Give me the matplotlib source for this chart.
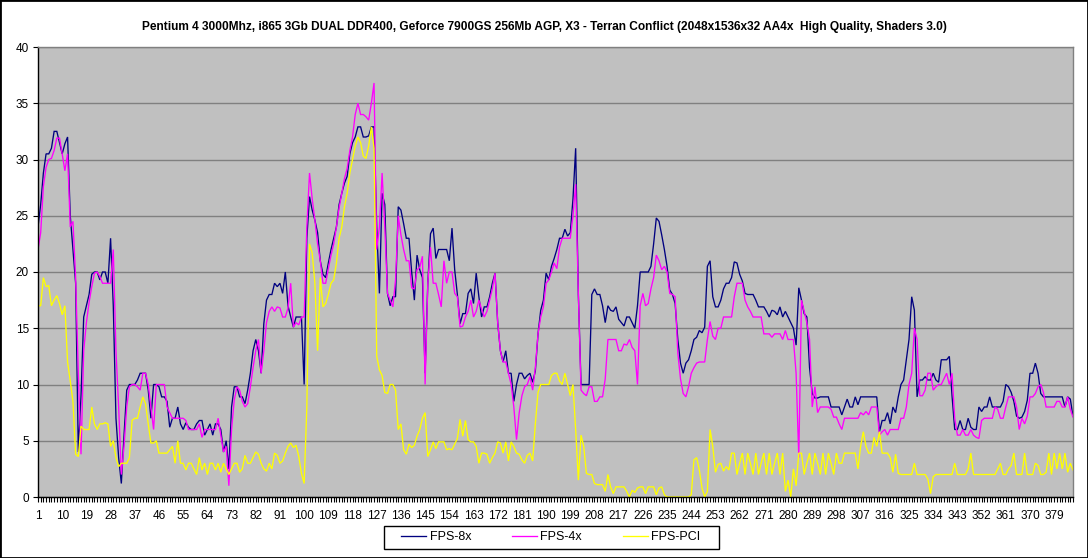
import matplotlib
matplotlib.use("Agg")
import matplotlib.pyplot as plt
from matplotlib.patches import Rectangle

plt.rcParams['font.family'] = ['Liberation Sans', 'DejaVu Sans']

title = ("Pentium 4 3000Mhz, i865 3Gb DUAL DDR400, Geforce 7900GS 256Mb AGP, "
         "X3 - Terran Conflict (2048x1536x32 AA4x  High Quality, Shaders 3.0)")
series_names = ["FPS-8x", "FPS-4x", "FPS-PCI"]

fps_8x = [
    24, 26, 28.8, 30.5, 30.5, 31, 32.5, 32.5, 31.5, 30.5, 31.4, 32, 25, 22, 19, 4, 9, 16, 17, 18,
    19.8, 20, 20, 19.3, 20, 20, 19, 23, 17, 7, 3.5, 1.2, 5.5, 9.5, 10, 10, 10, 10.4, 11, 11,
    11, 9.5, 7, 10,
    10, 9.8, 8.9, 8.9, 8.5, 6.2, 7, 7, 8, 6.5, 6, 6.6, 6.2, 6, 6, 6.5, 6.8, 6.8, 5.5, 6,
    6.5, 5.5, 6.5, 6.5, 6, 4, 5, 2.5, 8, 9.8, 9.8, 8.9, 8.9, 8.3, 9.5, 11, 13, 14, 13, 11,
    15.4, 17.5, 18,
    18, 19, 18.7, 19, 18.1, 20, 17, 16, 15.1, 16, 16, 16, 10, 23, 26.7, 25.5, 24.6, 23.5, 21, 19.8,
    19.5, 20.8, 22, 23, 24, 26, 27, 27.9, 28.5, 30.5, 31.5, 32, 32.9, 32.9, 32, 32, 32.1, 32.9, 32.9, 24,
    18.1, 27, 26,
    18.1, 17, 17.8, 17.8, 25.8, 25.5, 24.3, 23, 23, 20, 17.5, 21.5, 20.2, 19.5, 11, 19, 23.4, 23.9, 21.2, 22,
    22, 22, 22, 21, 23.9, 20.2, 18, 15.4, 16.3, 16.3, 18.1, 18.5, 17.2, 19.9, 17.8, 16, 16.9, 16.9, 17.8, 19,
    19.9, 15.5, 13,
    12, 13, 11, 11, 8.5, 10, 11, 11, 10.5, 10.8, 11, 10.2, 11.2, 14.5, 16.6, 17.5, 19.9, 19.3, 20.5, 21.2,
    22, 23, 23, 23.8, 23.2, 23.5, 26.5, 31, 18, 10, 10, 10, 10, 18, 18.5, 18, 18, 17, 15.5, 17,
    16.6, 16.5,
    16.9, 15.8, 15.5, 15.2, 16, 16, 15.5, 15, 17, 20, 20, 20, 20, 20.5, 22.5, 24.8, 24.5, 23.3, 22, 20.5,
    18.4, 18, 17.2, 14, 11.9, 11, 11.9, 12.2, 13, 14, 14.2, 14.8, 14.6, 15.1, 20.5, 21, 17.8, 16.9, 16.9, 17.5,
    18.5, 19, 19,
    19.5, 20.9, 20.8, 19.8, 19.2, 18.1, 18, 18, 18, 17.5, 16.9, 16.9, 16.9, 16.5, 16, 16.6, 16.5, 16.2, 16.9, 16,
    16.5, 16, 15.5, 15, 13.5, 18.6, 17.5, 16.3, 16, 11.5, 9.2, 8.8, 8.8, 8.9, 8.9, 8.9, 8.9, 8, 8, 8,
    8, 7.3, 8,
    8.7, 8, 8, 8.9, 8.2, 8.9, 8.9, 8.9, 8.9, 8.9, 8.9, 8.9, 5.8, 6.8, 6.8, 7.5, 6.5, 8, 7.5, 8.9,
    10, 10.4, 12.2, 14, 17.8, 16.6, 8.9, 10.4, 10.4, 10.7, 10.4, 10.4, 11, 10.4, 10.2, 12.2, 12.2, 12.2, 12.5, 9,
    6, 6, 6.8,
    6, 6, 7, 6.2, 6, 6, 8, 7.6, 8, 8, 8.9, 8, 8, 8, 8, 8.5, 10, 9.8, 9.3, 8.5,
    7.2, 7, 7.1, 7.6, 8.6, 11, 11, 11.9, 11, 9.2, 8.9, 8.9, 8.9, 8.9, 8.9, 8.9, 8.9, 8.9, 8, 8.9,
    8.7, 7.2,
]

fps_4x = [
    22, 23.5, 27.6, 29.3, 30, 30.1, 30.8, 31.9, 31.9, 30.5, 29, 30.5, 24, 24.5, 19.5, 11, 3.8, 13, 15.5, 17.3,
    18.7, 19.9, 20, 19.6, 19, 19, 19, 19, 22, 13, 8, 2, 4.5, 8, 9.8, 10, 10, 9.8, 9.5, 11,
    11, 10, 8, 6,
    10, 10, 10, 10, 8, 7.5, 7, 7, 7, 7, 7, 6.8, 6, 6, 6, 6, 6.5, 5.3, 6, 6,
    6, 6, 6, 7, 5.5, 4, 4.5, 1, 6, 8.6, 9.8, 9.5, 8.5, 8, 8.3, 9.8, 11.5, 13, 14, 11,
    13, 15.5, 16.5,
    16.9, 16.5, 16.9, 16.8, 16, 16, 16.8, 19, 15.1, 15.5, 15.3, 16, 16, 24, 28.8, 26.5, 24.6, 22.5, 21, 19,
    19, 20.3, 21.5, 22.5, 24, 25.7, 27, 28.3, 29.2, 30.8, 32, 34, 35, 34, 34, 33.8, 33.5, 35, 36.8, 22,
    24, 28.8, 24,
    18.1, 17.5, 16.9, 19.3, 25, 23.3, 22, 21, 21, 18.6, 18.5, 20.2, 20.4, 21.4, 10, 19, 22.2, 19, 19, 18,
    16.9, 21, 19, 20, 20, 18.1, 17.8, 15.1, 15.2, 16, 16.5, 17.5, 16, 16.5, 17.5, 16.7, 16, 16.5, 17.5, 18.5,
    19.9, 15.5, 13,
    12, 12, 11, 10, 8, 5.1, 7.5, 9, 9.8, 10, 10.7, 9.5, 11.5, 14.5, 16, 16.9, 19, 19.3, 20, 20.8,
    20.3, 22.2, 23, 23, 23, 23, 25, 27.8, 18.1, 9.5, 9.2, 9, 9.8, 9.8, 8.5, 8.5, 8.9, 8.9, 10.5, 14,
    14, 14,
    14, 13, 13, 13.6, 13.5, 14, 13.3, 13, 10, 17, 18.1, 17, 17.2, 18.5, 19.5, 21.5, 21, 20.2, 20.5, 20,
    18.1, 18, 17.8, 12.8, 10.5, 9.2, 8.9, 9.8, 11, 11.5, 11.9, 12, 12, 12, 14, 15.6, 14.3, 14, 15, 15,
    16, 16, 16,
    16, 17.8, 19, 19, 19, 17.5, 16.9, 16.5, 16, 16, 16, 16, 14.5, 14.5, 14.5, 14.2, 14.5, 14.5, 14.5, 14,
    14.8, 14, 14, 14, 11, 3.5, 17.5, 16.5, 15.5, 14, 8, 9.8, 7.5, 8, 8, 8, 8, 7.8, 7.1, 7.1,
    6.5, 6, 7,
    7, 7, 7, 7, 7, 7.5, 7.3, 7.6, 7.3, 8, 8, 8, 5.5, 5.8, 6, 5.5, 6, 6, 6, 6,
    7, 7, 8, 10, 11, 15, 14, 9, 9, 9.5, 11, 11, 9.5, 9.8, 10, 10, 10.5, 11, 10, 11,
    7, 5.5, 5.5,
    6, 5.5, 5.5, 6, 5.5, 5.3, 5.2, 6.8, 7, 7, 7, 7, 8, 7.8, 7, 7, 8, 8.9, 8.9, 8.9,
    8, 6, 7, 6.5, 7.2, 8.9, 8.9, 9.2, 9.8, 10, 9.3, 8, 8, 8, 8, 8.5, 8.5, 8, 8, 8.9,
    7.8, 7.1,
]

fps_pci = [
    17, 17, 19.5, 18.7, 18.8, 17, 17.5, 17.9, 17.2, 16.2, 17, 12, 10.3, 8.5, 3.8, 3.6, 6.3, 6, 6, 6,
    8, 6.5, 6, 6.5, 6.5, 6.6, 6.5, 4.5, 5, 3.5, 2.7, 3, 3, 3, 3.5, 6.8, 7, 7, 8, 8.9,
    8.3, 6.5, 4.8, 4.8,
    5, 3.9, 3.9, 3.9, 3.9, 4.2, 4.5, 3, 5, 3, 3, 2.4, 3, 3, 2.5, 2, 3.5, 2.4, 3, 2,
    3, 3, 2.4, 3, 2.2, 3, 2.5, 2, 2.5, 3, 3, 2.2, 2.5, 3.7, 3, 3, 3.5, 4, 3.8, 3,
    2.5, 2.3, 3,
    2.5, 3.9, 3.7, 3, 3.2, 3.9, 4.5, 4.8, 4.4, 4.6, 3.6, 2.1, 1.2, 8, 22.5, 21.7, 19, 13, 19.5, 16.9,
    17.2, 18, 19, 19.3, 20.8, 23, 24, 25.8, 27, 28.8, 30, 31.2, 32, 31.5, 30.3, 30.1, 31.2, 32.9, 31, 12.5,
    11.3, 10.8, 9.3,
    9.2, 10, 10, 9.5, 6, 6.5, 4.2, 3.8, 4.7, 4.4, 4.6, 5.4, 6, 7, 7.5, 3.6, 4.2, 4.9, 4.3, 4.9,
    4.9, 4.9, 4.2, 4.3, 4.2, 4.7, 5.2, 6.9, 5.4, 6.8, 5.1, 4.9, 4.9, 4.5, 3, 3.9, 3.9, 3.8, 3, 3.5,
    3.9, 4.9, 4.8,
    3.9, 4.9, 3.2, 4.9, 4.5, 3.9, 3.8, 3.3, 3, 3.7, 3.9, 3.2, 6.5, 9.3, 10, 10, 10, 10, 10.8, 11,
    11, 10.3, 10, 11, 10, 9, 10, 6, 1.5, 5.5, 4.5, 2.1, 2, 2, 1.2, 1.1, 1.1, 1.1, 0.5, 2,
    0.9, 0.3,
    0.9, 0.9, 0.9, 0.9, 0.5, 0, 0.6, 0.4, 0.8, 0.9, 0.9, 0.3, 0.9, 0.9, 0.9, 0.2, 0.8, 0.9, 0.2, 0,
    0, 0, 0, 0, 0, 0, 0, 0, 0.2, 3.3, 3.5, 2.4, 0.8, 0, 0.5, 6, 4.5, 2.2, 2.9, 3,
    2.3, 2.7, 2.4,
    3.9, 3.9, 2, 3, 3.9, 2, 3.9, 3, 2, 3.9, 2, 3, 3.9, 2, 3.9, 2, 3, 3.9, 2, 3.9,
    0.5, 1.5, 0, 2.5, 1, 3.9, 3.9, 2, 3, 3.9, 2, 3.9, 3, 2, 3.9, 2, 3.9, 3, 2, 3.9,
    3, 3, 3.9,
    3.9, 3.9, 3.9, 3.9, 2.5, 4.5, 5.8, 4.5, 3.9, 3.9, 5.3, 4.5, 5.8, 3.9, 3.9, 3.9, 3.5, 2.2, 3.8, 2.1,
    2, 2, 2, 2, 2, 3, 2, 2, 2, 2, 1.6, 0.3, 1.8, 2, 2, 2, 2, 2, 2, 2,
    3, 2, 2,
    2, 2, 2.5, 3.9, 2, 2, 2, 2, 2, 2, 2, 2, 2, 2.5, 3, 2, 2, 2.5, 2.8, 3.9,
    2, 2, 2, 3.9, 2, 2, 2, 3, 2.8, 2, 2, 2.2, 3.9, 2, 3.9, 2.5, 3.9, 2.5, 3.9, 2.2,
    3, 2.4,
]

x_tick_labels = ["1", "10", "19", "28", "37", "46", "55", "64", "73", "82", "91", "100",
                 "109", "118", "127", "136", "145", "154", "163", "172", "181", "190",
                 "199", "208", "217", "226", "235", "244", "253", "262", "271", "280",
                 "289", "298", "307", "316", "325", "334", "343", "352", "361", "370", "379"]
y_ticks = [0, 5, 10, 15, 20, 25, 30, 35, 40]

assert len(fps_8x) == len(fps_4x) == len(fps_pci), (len(fps_8x), len(fps_4x), len(fps_pci))
frames = list(range(1, len(fps_8x) + 1))

W, H = 1088, 558
fig = plt.figure(figsize=(W / 100, H / 100), dpi=100)
L, R, T, B = 38, 1073, 47, 497
ax = fig.add_axes([L / W, 1 - B / H, (R - L) / W, (B - T) / H])
ax.set_facecolor("#C0C0C0")

colors = ["#000080", "#FF00FF", "#FFFF00"]
handles = []
for vals, c, name in zip([fps_8x, fps_4x, fps_pci], colors, series_names):
    h, = ax.plot(frames, vals, color=c, lw=0.95, label=name, solid_joinstyle="miter")
    handles.append(h)

ax.set_xlim(1, len(frames))
ax.set_ylim(0, 40)
ax.set_yticks(y_ticks)
ax.set_yticklabels([str(v) for v in y_ticks], fontsize=8.5)
ax.yaxis.grid(True, color="#808080", lw=1.0)
ax.set_axisbelow(True)

major_pos = [int(s) for s in x_tick_labels]
ax.set_xticks(major_pos)
ax.set_xticklabels(x_tick_labels, fontsize=8.5)
ax.set_xticks(frames, minor=True)
ax.tick_params(axis="x", which="both", direction="out", length=3.5, width=0.8, pad=6)
ax.tick_params(axis="y", direction="out", length=3.5, width=0.8, pad=3)

for side in ["left", "bottom"]:
    ax.spines[side].set_color("black")
    ax.spines[side].set_linewidth(1.0)
for side in ["top", "right"]:
    ax.spines[side].set_color("#808080")
    ax.spines[side].set_linewidth(1.0)

fig.text(544 / W, 1 - 27 / H, title, ha="center", va="center",
         fontsize=8.6, fontweight="bold")

# legend box drawn like the reference, entries placed inside it
fig.patches.append(Rectangle((384 / W, 1 - 549 / H), (719 - 384) / W, (549 - 526) / H,
                             transform=fig.transFigure, fill=True, facecolor="white",
                             edgecolor="black", lw=1.0, zorder=5))
leg = fig.legend(handles=handles, labels=series_names, loc="center",
                 bbox_to_anchor=(551 / W, 1 - 537.5 / H), ncol=3, fontsize=9,
                 frameon=False, handlelength=2.0, handletextpad=0.25,
                 columnspacing=3.3, borderpad=0.2)
leg.set_zorder(6)

fig.patches.append(Rectangle((0, 0), 1, 1, transform=fig.transFigure, fill=False,
                             edgecolor="black", lw=2.0))

fig.savefig("out.png", dpi=100)
